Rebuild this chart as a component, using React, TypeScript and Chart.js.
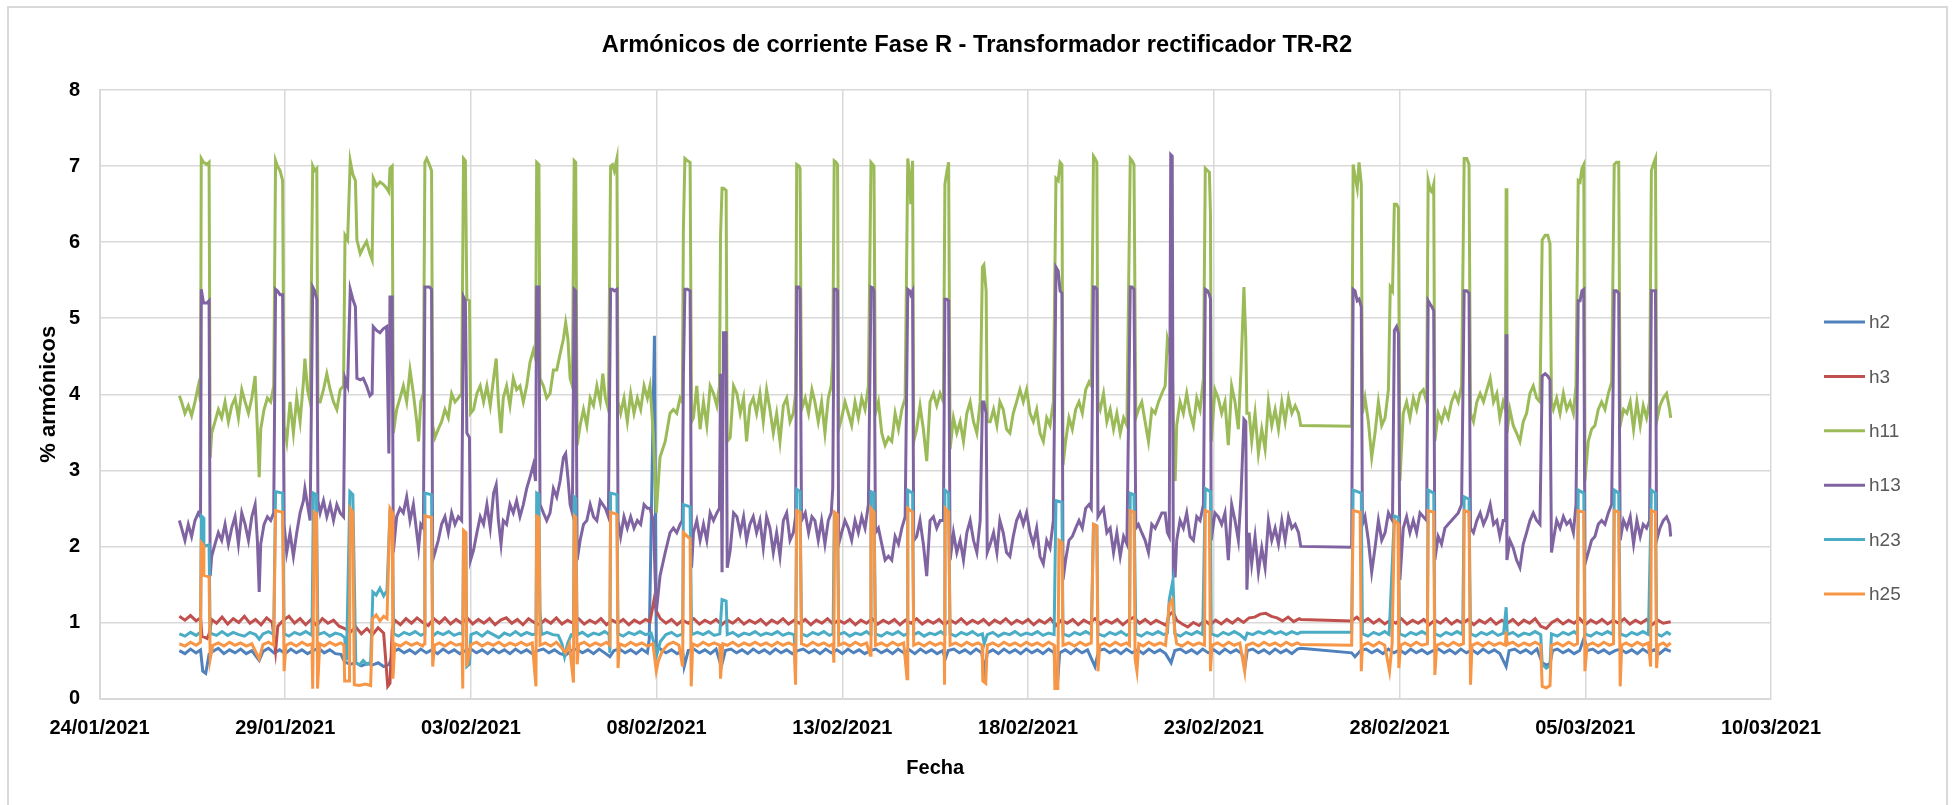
import React, { useEffect, useRef } from "react";
import { Chart, registerables } from "chart.js";

Chart.register(...registerables);

const FONT = '"Liberation Sans", Arial, sans-serif';

const chartTitle = "Armónicos de corriente Fase R - Transformador rectificador TR-R2";
const xAxisTitle = "Fecha";
const yAxisTitle = "% armónicos";

// x axis: days since 24/01/2021 00:00, one tick every 5 days
const xTickLabels = [
  "24/01/2021", "29/01/2021", "03/02/2021", "08/02/2021", "13/02/2021",
  "18/02/2021", "23/02/2021", "28/02/2021", "05/03/2021", "10/03/2021",
];

const seriesNames = ["h2", "h3", "h11", "h13", "h23", "h25"];
const seriesColors = ["#4F81BD", "#C0504D", "#9BBB59", "#8064A2", "#4BACC6", "#F79646"];

// [day, %]
const h11: [number, number][] = [
  [2.15,3.98],[2.21,3.90],[2.30,3.75],[2.39,3.85],[2.48,3.72],[2.57,3.90],[2.66,4.11],[2.72,3.90],
  [2.74,7.10],[2.80,7.05],[2.89,7.02],[2.95,7.05],[2.98,3.17],
  [3.02,3.49],[3.11,3.64],[3.20,3.80],[3.29,3.69],[3.38,3.90],[3.47,3.64],[3.56,3.85],[3.65,3.95],[3.74,3.69],[3.83,4.06],[3.92,3.90],[4.01,3.75],[4.10,3.95],[4.19,4.24],[4.25,3.54],[4.30,2.91],[4.34,3.54],[4.43,3.80],[4.52,3.95],[4.61,3.90],[4.69,4.11],
  [4.74,7.07],[4.79,7.00],[4.86,6.94],[4.93,6.81],[4.97,3.59],
  [5.04,3.38],[5.13,3.90],[5.22,3.49],[5.31,3.95],[5.40,3.64],[5.49,4.16],[5.53,4.47],[5.60,4.06],[5.67,3.90],
  [5.74,7.00],[5.79,6.94],[5.85,6.97],[5.88,3.90],
  [5.94,3.90],[6.03,4.06],[6.12,4.27],[6.21,4.06],[6.30,3.90],[6.39,3.80],[6.48,4.06],[6.57,4.11],
  [6.61,6.09],[6.68,6.03],[6.75,7.07],[6.82,6.89],[6.89,6.81],[6.93,6.03],[7.02,5.85],[7.10,5.93],[7.19,6.01],[7.28,5.85],[7.34,5.77],[7.37,6.84],[7.46,6.74],[7.55,6.79],[7.64,6.76],[7.73,6.71],[7.79,6.66],[7.82,6.97],[7.88,7.00],[7.91,3.49],
  [8.00,3.80],[8.09,3.95],[8.18,4.11],[8.27,3.90],[8.36,4.32],[8.45,4.01],[8.54,3.64],[8.59,3.38],[8.65,3.90],[8.72,4.01],
  [8.76,7.05],[8.81,7.10],[8.88,7.02],[8.94,6.94],[8.97,3.59],
  [9.03,3.43],[9.12,3.54],[9.21,3.64],[9.30,3.80],[9.39,3.69],[9.48,4.01],[9.57,3.90],[9.66,3.95],[9.75,4.01],
  [9.80,7.10],[9.85,7.07],[9.89,5.25],[9.96,5.23],[9.99,3.75],
  [10.07,3.80],[10.16,4.01],[10.25,4.11],[10.34,3.90],[10.43,4.11],[10.52,3.85],[10.61,4.21],[10.68,4.47],[10.74,3.90],[10.81,3.49],[10.87,3.95],[10.96,4.11],[11.05,3.85],[11.14,4.21],[11.23,4.06],[11.32,4.11],[11.41,3.90],[11.50,4.11],[11.59,4.42],[11.68,4.58],[11.74,4.47],
  [11.77,7.05],[11.83,7.02],[11.86,4.21],
  [11.95,4.11],[12.04,3.95],[12.13,4.01],[12.22,4.32],[12.31,4.32],[12.40,4.53],[12.49,4.73],[12.55,4.94],[12.61,4.73],[12.67,4.21],[12.73,4.11],
  [12.78,7.07],[12.82,7.05],[12.86,3.33],
  [12.94,3.59],[13.03,3.80],[13.12,3.59],[13.21,3.95],[13.30,3.85],[13.39,4.11],[13.48,3.90],[13.55,4.27],[13.62,3.95],[13.70,3.80],
  [13.76,7.00],[13.81,7.02],[13.86,6.94],[13.93,7.10],[13.96,3.90],
  [14.03,3.75],[14.12,3.95],[14.21,3.64],[14.30,4.01],[14.39,3.75],[14.48,3.95],[14.57,3.80],[14.66,4.11],[14.75,3.95],[14.82,4.11],[14.91,3.49],[14.99,2.44],[15.09,3.17],[15.23,3.38],[15.36,3.75],[15.45,3.80],
  [15.54,3.75],[15.63,3.95],[15.69,3.90],
  [15.72,6.19],[15.76,7.10],[15.83,7.07],[15.90,7.05],[15.94,3.64],
  [15.99,3.69],[16.08,4.11],[16.17,3.54],[16.26,3.90],[16.35,3.59],[16.44,4.11],[16.53,4.01],[16.62,3.85],[16.69,4.11],
  [16.72,6.09],[16.76,6.71],[16.80,6.71],[16.87,6.68],[16.90,3.38],
  [16.98,3.43],[17.07,4.11],[17.16,4.01],[17.25,3.75],[17.34,3.95],[17.42,3.38],[17.51,3.85],[17.60,3.95],[17.69,3.75],[17.78,4.01],[17.87,3.64],[17.96,4.06],[18.05,3.80],[18.14,3.49],[18.23,3.75],[18.32,3.38],[18.41,3.85],[18.50,3.95],[18.59,3.64],[18.68,3.75],[18.74,4.01],
  [18.77,7.02],[18.83,7.00],[18.86,6.97],[18.90,3.80],
  [19.00,3.95],[19.09,3.75],[19.18,4.06],[19.26,3.90],[19.35,3.64],[19.44,3.90],[19.53,3.49],[19.62,3.95],[19.70,4.11],[19.74,4.47],
  [19.78,7.07],[19.83,7.05],[19.87,7.02],[19.90,3.54],
  [19.98,3.69],[20.07,3.90],[20.16,3.75],[20.25,3.59],[20.34,3.90],[20.43,3.69],[20.52,3.95],[20.61,3.80],[20.70,4.11],
  [20.77,7.05],[20.82,7.02],[20.85,7.00],[20.89,3.75],
  [20.97,3.90],[21.06,3.49],[21.15,3.33],[21.24,3.43],[21.33,3.38],[21.42,3.75],[21.51,3.54],[21.60,3.80],[21.69,3.95],
  [21.76,7.10],[21.81,6.87],[21.84,6.50],[21.89,7.07],[21.92,3.38],
  [22.00,3.54],[22.09,3.85],[22.18,3.54],[22.27,3.12],[22.36,3.90],[22.45,4.01],[22.54,3.85],[22.63,4.01],[22.72,3.90],
  [22.76,6.76],[22.81,6.92],[22.86,7.05],[22.90,3.28],
  [22.99,3.69],[23.08,3.49],[23.17,3.64],[23.26,3.38],[23.35,3.75],[23.44,3.90],[23.53,3.64],[23.62,3.49],[23.71,3.90],
  [23.77,5.67],[23.81,5.70],[23.87,5.36],[23.90,3.64],
  [23.98,3.64],[24.07,3.80],[24.16,3.59],[24.24,3.90],[24.33,3.80],[24.42,3.54],[24.51,3.49],[24.60,3.75],[24.69,3.90],[24.78,4.06],[24.87,3.90],[24.96,4.06],[25.05,3.75],[25.14,3.64],[25.23,3.80],[25.32,3.49],[25.41,3.38],[25.50,3.69],[25.59,3.59],[25.68,3.90],
  [25.75,6.84],[25.81,6.81],[25.86,7.05],[25.91,7.02],[25.94,3.07],
  [26.01,3.38],[26.10,3.69],[26.19,3.54],[26.28,3.80],[26.37,3.90],[26.46,3.75],[26.55,4.06],[26.64,4.16],[26.70,4.11],
  [26.76,7.13],[26.80,7.10],[26.85,7.05],[26.88,3.90],
  [26.94,3.80],[27.03,4.01],[27.12,3.64],[27.21,3.80],[27.30,3.54],[27.39,3.75],[27.48,3.49],[27.57,3.69],[27.66,3.59],
  [27.75,7.10],[27.80,7.07],[27.85,7.02],[27.90,3.69],
  [27.97,3.80],[28.06,3.90],[28.15,3.64],[28.24,3.38],[28.33,3.80],[28.42,3.75],[28.51,3.90],[28.60,4.01],[28.69,4.11],[28.75,4.73],[28.80,4.63],[28.85,4.42],[28.89,4.16],[28.93,3.00],[28.96,2.86],
  [29.00,3.59],[29.09,3.90],[29.18,3.75],[29.27,4.01],[29.36,3.75],[29.45,3.59],[29.54,3.95],[29.63,3.80],[29.72,4.21],
  [29.77,6.97],[29.83,6.94],[29.88,6.92],[29.91,6.35],[29.93,3.38],
  [30.03,4.06],[30.12,3.95],[30.21,3.75],[30.30,3.90],[30.39,3.33],[30.48,4.11],[30.57,3.90],[30.66,3.54],[30.73,4.32],
  [30.81,5.41],[30.86,4.73],[30.89,3.75],
  [30.95,3.75],[31.02,3.38],[31.11,3.75],[31.20,3.22],[31.29,3.54],[31.38,3.28],[31.47,3.90],[31.56,3.59],[31.65,3.80],[31.74,3.54],[31.83,3.90],[31.92,3.64],[32.01,3.95],[32.10,3.75],[32.19,3.85],[32.28,3.75],[32.34,3.59],
  [33.71,3.58],
  [33.75,7.02],[33.80,6.87],[33.86,6.71],[33.91,7.05],[33.97,6.76],[34.00,3.75],
  [34.07,3.95],[34.16,3.64],[34.25,3.17],[34.34,3.49],[34.43,3.90],[34.52,3.59],[34.61,3.69],[34.70,4.06],
  [34.75,5.41],[34.81,5.36],[34.86,6.50],[34.92,6.50],[34.97,6.45],[35.01,2.86],
  [35.10,3.75],[35.19,3.90],[35.28,3.69],[35.37,3.95],[35.46,3.80],[35.55,4.01],[35.64,4.06],[35.73,3.90],
  [35.77,6.81],[35.83,6.68],[35.87,6.66],[35.92,6.76],[35.95,3.38],
  [36.04,3.75],[36.13,3.64],[36.22,3.80],[36.31,3.69],[36.40,3.90],[36.49,4.01],[36.58,3.90],[36.67,4.11],
  [36.74,7.10],[36.81,7.10],[36.87,7.02],[36.91,3.75],
  [36.99,3.64],[37.08,3.90],[37.17,4.01],[37.26,3.90],[37.35,4.06],[37.44,4.21],[37.53,3.90],[37.62,4.01],[37.70,3.69],[37.79,3.90],[37.85,3.80],
  [37.87,6.71],[37.89,3.49],
  [37.97,3.80],[38.06,3.59],[38.15,3.49],[38.24,3.38],[38.33,3.64],[38.42,3.75],[38.51,4.01],[38.60,4.11],[38.69,3.95],[38.78,3.90],
  [38.84,6.03],[38.92,6.09],[38.99,6.09],[39.05,5.98],[39.09,3.90],
  [39.14,3.80],[39.23,3.95],[39.32,3.75],[39.41,4.01],[39.50,3.80],[39.59,3.90],[39.68,3.75],[39.75,4.11],
  [39.81,6.81],[39.86,6.79],[39.91,6.97],[39.96,7.02],[39.99,2.86],
  [40.08,3.38],[40.17,3.54],[40.26,3.59],[40.35,3.80],[40.44,3.90],[40.53,3.80],[40.62,4.01],[40.71,4.16],
  [40.78,7.02],[40.84,7.05],[40.90,7.05],[40.94,3.59],
  [41.03,3.80],[41.12,3.75],[41.21,3.90],[41.30,3.54],[41.39,3.90],[41.48,3.59],[41.56,3.85],[41.65,3.69],[41.73,3.90],
  [41.78,6.94],[41.83,7.02],[41.89,7.10],[41.92,3.64],
  [42.01,3.85],[42.10,3.95],[42.19,4.01],[42.27,3.80],[42.30,3.69],
];

const h13: [number, number][] = [
  [2.15,2.34],[2.21,2.24],[2.30,2.08],[2.39,2.29],[2.48,2.13],[2.57,2.34],[2.66,2.44],[2.72,2.39],
  [2.74,5.38],[2.80,5.20],[2.89,5.20],[2.95,5.23],[2.98,1.61],
  [3.02,1.87],[3.11,2.03],[3.20,2.18],[3.29,2.08],[3.38,2.29],[3.47,2.03],[3.56,2.24],[3.65,2.39],[3.74,2.03],[3.83,2.44],[3.92,2.29],[4.01,2.08],[4.10,2.39],[4.19,2.55],[4.25,2.08],[4.30,1.40],[4.34,2.03],[4.43,2.29],[4.52,2.39],[4.61,2.34],[4.69,2.44],
  [4.74,5.38],[4.79,5.36],[4.86,5.31],[4.93,5.31],[4.97,2.29],
  [5.04,1.92],[5.13,2.18],[5.22,1.87],[5.31,2.18],[5.40,2.44],[5.49,2.60],[5.53,2.76],[5.60,2.55],[5.67,2.34],
  [5.74,5.41],[5.79,5.36],[5.85,5.25],[5.88,2.60],
  [5.94,2.44],[6.03,2.60],[6.12,2.39],[6.21,2.55],[6.30,2.34],[6.39,2.55],[6.48,2.44],[6.57,2.39],
  [6.61,4.21],[6.68,4.11],[6.75,5.38],[6.82,5.25],[6.89,5.15],[6.93,4.21],[7.02,4.19],[7.10,4.21],[7.19,4.11],[7.28,3.98],[7.34,4.01],[7.37,4.89],[7.46,4.84],[7.55,4.81],[7.64,4.86],[7.73,4.89],[7.79,3.22],[7.82,5.28],[7.88,5.28],[7.91,1.92],
  [8.00,2.39],[8.09,2.50],[8.18,2.44],[8.27,2.65],[8.36,2.34],[8.45,2.55],[8.54,2.18],[8.59,1.98],[8.65,2.29],[8.72,2.24],
  [8.76,5.41],[8.81,5.41],[8.88,5.41],[8.94,5.38],[8.97,1.82],
  [9.03,1.92],[9.12,2.08],[9.21,2.29],[9.30,2.39],[9.39,2.18],[9.48,2.44],[9.57,2.29],[9.66,2.39],[9.75,2.34],
  [9.80,5.28],[9.85,5.23],[9.89,3.49],[9.96,3.43],[9.99,1.82],
  [10.07,1.95],[10.16,2.18],[10.25,2.39],[10.34,2.29],[10.43,2.55],[10.52,2.24],[10.61,2.70],[10.68,2.81],[10.74,2.34],[10.81,2.03],[10.87,2.34],[10.96,2.29],[11.05,2.55],[11.14,2.44],[11.23,2.60],[11.32,2.39],[11.41,2.55],[11.50,2.76],[11.59,2.91],[11.68,3.07],[11.74,2.86],
  [11.77,5.41],[11.83,5.41],[11.86,2.55],
  [11.95,2.44],[12.04,2.34],[12.13,2.44],[12.22,2.76],[12.31,2.65],[12.40,2.86],[12.49,3.17],[12.55,3.22],[12.61,2.91],[12.67,2.55],[12.73,2.44],
  [12.78,5.38],[12.82,5.36],[12.86,1.82],
  [12.94,2.08],[13.03,2.29],[13.12,2.34],[13.21,2.55],[13.30,2.39],[13.39,2.34],[13.48,2.60],[13.55,2.55],[13.62,2.50],[13.70,2.39],
  [13.76,5.38],[13.81,5.38],[13.86,5.36],[13.93,5.38],[13.96,2.34],
  [14.03,2.13],[14.12,2.39],[14.21,2.24],[14.30,2.39],[14.39,2.24],[14.48,2.34],[14.57,2.29],[14.66,2.55],[14.75,2.50],[14.82,2.50],[14.91,2.34],[14.99,1.14],[15.09,1.61],[15.23,1.92],[15.36,2.18],[15.45,2.24],
  [15.54,2.18],[15.63,2.29],[15.69,2.34],
  [15.72,4.27],[15.76,5.38],[15.83,5.38],[15.90,5.36],[15.94,1.72],
  [15.99,2.18],[16.08,2.34],[16.17,2.08],[16.26,2.29],[16.35,2.08],[16.44,2.44],[16.53,2.34],[16.62,2.44],[16.69,2.50],
  [16.72,4.27],[16.76,1.66],[16.80,4.81],[16.87,4.81],[16.90,1.72],
  [16.98,1.95],[17.07,2.44],[17.16,2.39],[17.25,2.18],[17.34,2.39],[17.42,2.08],[17.51,2.29],[17.60,2.39],[17.69,2.18],[17.78,2.34],[17.87,1.98],[17.96,2.39],[18.05,2.24],[18.14,1.92],[18.23,2.18],[18.32,1.87],[18.41,2.34],[18.50,2.44],[18.59,2.08],[18.68,2.18],[18.74,2.39],
  [18.77,5.41],[18.83,5.41],[18.86,5.38],[18.90,2.34],
  [19.00,2.44],[19.09,2.18],[19.18,2.39],[19.26,2.34],[19.35,2.08],[19.44,2.34],[19.53,2.03],[19.62,2.34],[19.70,2.44],[19.74,2.76],
  [19.78,5.38],[19.83,5.38],[19.87,5.36],[19.90,2.03],
  [19.98,2.18],[20.07,2.34],[20.16,2.24],[20.25,2.08],[20.34,2.34],[20.43,2.18],[20.52,2.39],[20.61,2.24],[20.70,2.55],
  [20.77,5.41],[20.82,5.40],[20.85,5.36],[20.89,2.18],
  [20.97,2.24],[21.06,2.03],[21.15,1.82],[21.24,1.87],[21.33,1.82],[21.42,2.13],[21.51,2.03],[21.60,2.24],[21.69,2.39],
  [21.76,5.38],[21.81,5.36],[21.84,5.31],[21.89,5.36],[21.92,2.08],
  [22.00,2.13],[22.09,2.34],[22.18,2.03],[22.27,1.61],[22.36,2.34],[22.45,2.39],[22.54,2.24],[22.63,2.34],[22.72,2.34],
  [22.76,5.25],[22.81,5.25],[22.86,5.23],[22.90,1.82],
  [22.99,2.18],[23.08,1.92],[23.17,2.08],[23.26,1.82],[23.35,2.18],[23.44,2.34],[23.53,2.08],[23.62,1.92],[23.71,2.34],
  [23.77,3.90],[23.81,3.90],[23.87,3.75],[23.90,1.92],
  [23.98,2.03],[24.07,2.18],[24.16,1.92],[24.24,2.34],[24.33,2.18],[24.42,1.92],[24.51,1.87],[24.60,2.13],[24.69,2.34],[24.78,2.44],[24.87,2.29],[24.96,2.44],[25.05,2.18],[25.14,2.03],[25.23,2.24],[25.32,1.87],[25.41,1.77],[25.50,2.08],[25.59,1.98],[25.68,2.34],
  [25.75,5.67],[25.81,5.62],[25.86,5.36],[25.91,5.33],[25.94,1.56],
  [26.01,1.82],[26.10,2.08],[26.19,2.13],[26.28,2.24],[26.37,2.34],[26.46,2.24],[26.55,2.50],[26.64,2.55],[26.70,2.50],
  [26.76,5.41],[26.80,5.41],[26.85,5.38],[26.88,2.39],
  [26.94,2.44],[27.03,2.50],[27.12,2.18],[27.21,2.24],[27.30,1.92],[27.39,2.18],[27.48,1.87],[27.57,2.13],[27.66,2.03],
  [27.75,5.41],[27.80,5.41],[27.85,5.38],[27.90,2.24],
  [27.97,2.29],[28.06,2.18],[28.15,2.08],[28.24,1.92],[28.33,2.29],[28.42,2.24],[28.51,2.34],[28.60,2.44],[28.69,2.44],[28.75,2.18],[28.80,2.13],[28.84,7.15],[28.88,7.13],[28.91,1.61],[28.96,1.61],
  [29.00,2.08],[29.09,2.34],[29.18,2.24],[29.27,2.44],[29.36,2.13],[29.45,2.08],[29.54,2.39],[29.63,2.34],[29.72,2.55],
  [29.77,5.38],[29.83,5.36],[29.88,5.31],[29.91,5.25],[29.93,2.08],
  [30.03,2.44],[30.12,2.39],[30.21,2.29],[30.30,2.44],[30.39,1.82],[30.48,2.55],[30.57,2.34],[30.66,2.08],[30.73,2.65],
  [30.81,3.67],[30.86,3.64],[30.89,1.43],
  [30.95,2.18],[31.02,1.77],[31.11,2.13],[31.20,1.66],[31.29,1.98],[31.38,1.72],[31.47,2.34],[31.56,2.08],[31.65,2.24],[31.74,2.03],[31.83,2.34],[31.92,2.08],[32.01,2.39],[32.10,2.24],[32.19,2.29],[32.28,2.18],[32.34,2.00],
  [33.71,1.99],
  [33.75,5.38],[33.80,5.36],[33.86,5.23],[33.91,5.25],[33.97,5.15],[34.00,2.29],
  [34.07,2.39],[34.16,2.08],[34.25,1.66],[34.34,1.98],[34.43,2.34],[34.52,2.08],[34.61,2.18],[34.70,2.44],
  [34.75,2.39],[34.81,2.34],[34.86,4.84],[34.92,4.89],[34.97,4.80],[35.01,1.56],
  [35.10,2.24],[35.19,2.39],[35.28,2.18],[35.37,2.34],[35.46,2.18],[35.55,2.44],[35.64,2.39],[35.73,2.34],
  [35.77,5.23],[35.83,5.18],[35.87,5.15],[35.92,5.10],[35.95,1.82],
  [36.04,2.13],[36.13,2.03],[36.22,2.24],[36.31,2.29],[36.40,2.34],[36.49,2.39],[36.58,2.44],[36.67,2.55],
  [36.74,5.36],[36.81,5.36],[36.87,5.33],[36.91,2.24],
  [36.99,2.18],[37.08,2.34],[37.17,2.44],[37.26,2.29],[37.35,2.39],[37.44,2.55],[37.53,2.29],[37.62,2.34],[37.70,2.13],[37.79,2.34],[37.85,2.34],
  [37.87,4.79],[37.89,1.82],
  [37.97,2.08],[38.06,1.98],[38.15,1.82],[38.24,1.72],[38.33,2.03],[38.42,2.18],[38.51,2.34],[38.60,2.44],[38.69,2.34],[38.78,2.29],
  [38.84,4.24],[38.92,4.27],[38.99,4.24],[39.05,4.19],[39.09,1.92],
  [39.14,2.08],[39.23,2.34],[39.32,2.24],[39.41,2.39],[39.50,2.29],[39.59,2.34],[39.68,2.18],[39.75,2.55],
  [39.81,5.23],[39.86,5.23],[39.91,5.36],[39.96,5.38],[39.99,1.77],
  [40.08,1.92],[40.17,2.08],[40.26,2.13],[40.35,2.29],[40.44,2.34],[40.53,2.29],[40.62,2.44],[40.71,2.55],
  [40.78,5.36],[40.84,5.36],[40.90,5.33],[40.94,2.08],
  [41.03,2.34],[41.12,2.24],[41.21,2.39],[41.30,2.03],[41.39,2.34],[41.48,2.13],[41.56,2.29],[41.65,2.24],[41.73,2.34],
  [41.78,5.36],[41.83,5.36],[41.89,5.36],[41.92,2.08],
  [42.01,2.24],[42.10,2.34],[42.19,2.39],[42.27,2.29],[42.30,2.13],
];

const h3: [number, number][] = [
  [2.15,1.08],[2.30,1.03],[2.45,1.09],[2.60,1.02],[2.72,1.06],[2.76,0.82],[2.90,0.79],[2.96,0.86],[3.02,1.04],[3.15,0.99],[3.30,1.07],[3.45,0.98],[3.60,1.05],[3.75,1.00],[3.90,1.08],[4.05,0.99],[4.20,1.04],[4.35,0.97],[4.50,1.06],[4.65,1.00],[4.74,0.62],[4.80,0.95],[4.95,1.03],
  [5.10,1.08],[5.25,0.99],[5.40,1.05],[5.55,0.97],[5.70,1.04],[5.85,0.96],[6.00,1.05],[6.15,0.99],[6.30,1.03],[6.45,0.95],[6.60,0.92],[6.75,0.87],[6.90,0.94],[7.05,0.85],[7.20,0.92],[7.35,0.84],[7.50,0.93],[7.65,0.86],[7.76,0.16],[7.82,0.20],[7.88,0.90],[7.95,1.03],
  [8.10,0.97],[8.25,1.05],[8.40,0.99],[8.55,1.06],[8.70,1.00],[8.85,0.96],[9.00,1.05],[9.15,0.99],[9.30,1.06],[9.45,0.98],[9.60,1.04],[9.75,0.99],[9.90,1.06],[10.05,0.98],[10.20,1.04],[10.35,0.99],[10.50,1.05],[10.65,0.97],[10.80,1.03],[10.95,1.06],
  [11.10,0.99],[11.25,1.04],[11.40,0.97],[11.55,1.05],[11.70,1.00],[11.85,0.97],[12.00,1.04],[12.15,0.99],[12.30,1.06],[12.45,0.98],[12.60,1.03],[12.75,0.99],[12.90,1.05],[13.05,0.98],[13.20,1.03],[13.35,0.99],[13.50,1.05],[13.65,0.97],[13.80,1.03],[13.95,0.99],
  [14.10,1.04],[14.25,0.97],[14.40,1.03],[14.55,0.99],[14.70,1.04],[14.82,1.01],[14.93,1.30],[15.00,1.14],[15.10,1.05],[15.25,0.99],[15.40,1.04],[15.55,0.97],[15.70,1.03],[15.85,0.99],[16.00,1.05],[16.15,0.98],[16.30,1.03],[16.45,0.99],[16.60,1.04],[16.75,0.97],
  [16.90,1.03],[17.05,0.99],[17.20,1.05],[17.35,0.98],[17.50,1.03],[17.65,0.99],[17.80,1.04],[17.95,0.97],[18.10,1.03],[18.25,0.99],[18.40,1.05],[18.55,0.98],[18.70,1.03],[18.85,0.99],[19.00,1.04],[19.15,0.97],[19.30,1.03],[19.45,0.99],[19.60,1.05],[19.75,0.98],
  [19.90,1.03],[20.05,0.99],[20.20,1.04],[20.35,0.97],[20.50,1.03],[20.65,0.99],[20.80,1.05],[20.95,0.98],[21.10,1.03],[21.25,0.99],[21.40,1.04],[21.55,0.97],[21.70,1.03],[21.85,0.99],[22.00,1.05],[22.15,0.98],[22.30,1.03],[22.45,0.99],[22.60,1.04],[22.75,0.97],
  [22.90,1.03],[23.05,0.99],[23.20,1.05],[23.35,0.98],[23.50,1.03],[23.65,0.99],[23.80,1.04],[23.95,0.97],[24.10,1.03],[24.25,0.99],[24.40,1.05],[24.55,0.98],[24.70,1.03],[24.85,0.99],[25.00,1.04],[25.15,0.97],[25.30,1.03],[25.45,0.99],[25.60,1.05],[25.75,0.96],
  [25.90,1.03],[26.05,0.99],[26.20,1.04],[26.35,0.97],[26.50,1.03],[26.65,0.99],[26.80,1.05],[26.95,0.98],[27.10,1.03],[27.25,0.99],[27.40,1.04],[27.55,0.97],[27.70,1.03],[27.85,1.07],[28.00,0.99],[28.15,1.04],[28.30,0.98],[28.45,1.03],[28.60,0.99],[28.72,0.96],
  [28.80,1.10],[28.90,1.14],[29.00,1.03],[29.15,0.98],[29.30,0.94],[29.45,1.00],[29.60,0.96],[29.75,1.03],[29.90,0.97],[30.05,1.03],[30.20,0.98],[30.35,1.04],[30.50,0.99],[30.65,1.05],[30.80,1.00],[30.95,1.06],[31.10,1.07],[31.25,1.11],[31.40,1.12],[31.55,1.08],
  [31.70,1.06],[31.85,1.02],[32.00,1.07],[32.15,1.01],[32.30,1.05],[32.34,1.04],[33.71,1.02],[33.85,1.07],[34.00,1.00],[34.15,1.05],[34.30,0.99],[34.45,1.04],[34.60,0.98],[34.75,1.03],[34.90,0.99],[35.05,1.05],[35.20,0.98],[35.35,1.03],[35.50,0.99],[35.65,1.04],
  [35.80,0.97],[35.95,1.03],[36.10,0.99],[36.25,1.05],[36.40,0.98],[36.55,1.03],[36.70,0.99],[36.85,1.04],[37.00,0.97],[37.15,1.03],[37.30,0.99],[37.45,1.05],[37.60,0.98],[37.75,1.03],[37.90,0.99],[38.05,1.04],[38.20,0.97],[38.35,1.03],[38.50,0.99],[38.65,1.05],
  [38.80,0.95],[38.95,0.92],[39.10,1.00],[39.25,1.04],[39.40,0.98],[39.55,1.03],[39.70,0.99],[39.85,1.05],[40.00,0.97],[40.15,1.03],[40.30,0.99],[40.45,1.04],[40.60,0.98],[40.75,1.03],[40.90,0.99],[41.05,1.05],[41.20,0.98],[41.35,1.03],[41.50,0.99],[41.65,1.04],
  [41.80,0.97],[41.95,1.03],[42.10,0.99],[42.30,1.01],
];

const h23: [number, number][] = [
  [2.15,0.85],[2.30,0.82],[2.45,0.87],[2.60,0.83],[2.72,0.87],[2.74,2.40],[2.79,2.38],[2.81,2.00],[2.95,2.02],[2.98,0.86],[3.15,0.83],[3.30,0.88],[3.45,0.83],[3.60,0.87],[3.75,0.84],[3.90,0.82],[4.05,0.87],[4.20,0.84],[4.30,0.78],[4.40,0.85],[4.55,0.88],[4.69,0.84],
  [4.74,2.72],[4.93,2.70],[4.97,0.85],[5.10,0.82],[5.25,0.87],[5.40,0.84],[5.55,0.88],[5.72,0.83],[5.76,2.70],[5.84,2.68],[5.88,0.84],[6.05,0.87],[6.20,0.82],[6.35,0.86],[6.50,0.84],[6.60,0.80],[6.65,0.50],[6.74,2.72],[6.82,2.68],[6.90,0.47],[7.00,0.44],[7.10,0.50],[7.20,0.45],[7.30,0.48],
  [7.36,1.40],[7.45,1.36],[7.55,1.45],[7.65,1.35],[7.74,1.42],[7.82,2.45],[7.88,2.42],[7.92,0.85],[8.05,0.82],[8.20,0.87],[8.35,0.84],[8.50,0.88],[8.65,0.83],[8.74,0.85],[8.76,2.70],[8.94,2.68],[8.97,0.82],[9.10,0.87],[9.25,0.84],[9.40,0.88],[9.55,0.83],[9.70,0.86],[9.78,0.84],
  [9.80,2.20],[9.86,2.18],[9.89,0.42],[9.96,0.45],[10.00,0.84],[10.15,0.87],[10.30,0.82],[10.45,0.88],[10.60,0.84],[10.75,0.80],[10.90,0.86],[11.05,0.83],[11.20,0.88],[11.35,0.83],[11.50,0.87],[11.65,0.84],[11.75,0.85],[11.77,2.70],[11.83,2.68],[11.86,1.15],[11.90,0.84],
  [12.05,0.87],[12.20,0.84],[12.35,0.83],[12.45,0.72],[12.52,0.55],[12.60,0.72],[12.70,0.84],[12.76,0.85],[12.78,2.65],[12.82,2.63],[12.86,0.84],[13.00,0.87],[13.15,0.82],[13.30,0.86],[13.45,0.84],[13.60,0.88],[13.72,0.84],[13.74,0.60],[13.76,2.70],[13.93,2.68],[13.96,0.85],
  [14.10,0.82],[14.25,0.87],[14.40,0.84],[14.55,0.88],[14.70,0.84],[14.85,0.86],[14.95,0.70],[15.00,0.57],[15.10,0.75],[15.25,0.84],[15.40,0.87],[15.55,0.82],[15.70,0.85],[15.72,2.55],[15.90,2.52],[15.94,0.84],[16.10,0.87],[16.25,0.84],[16.40,0.88],[16.55,0.83],[16.70,0.85],
  [16.76,1.30],[16.87,1.28],[16.90,0.84],[17.05,0.87],[17.20,0.82],[17.35,0.86],[17.50,0.84],[17.65,0.88],[17.80,0.83],[17.95,0.86],[18.10,0.84],[18.25,0.88],[18.40,0.83],[18.55,0.86],[18.70,0.84],[18.74,0.44],[18.77,2.75],[18.86,2.72],[18.90,0.85],
  [19.05,0.82],[19.20,0.87],[19.35,0.84],[19.50,0.88],[19.65,0.83],[19.75,0.85],[19.78,2.40],[19.87,2.38],[19.90,0.84],[20.05,0.87],[20.20,0.82],[20.35,0.86],[20.50,0.84],[20.65,0.88],[20.75,0.84],[20.77,2.72],[20.85,2.70],[20.89,0.85],
  [21.05,0.82],[21.20,0.87],[21.35,0.84],[21.50,0.88],[21.65,0.83],[21.75,0.85],[21.76,2.74],[21.89,2.70],[21.92,0.84],[22.05,0.87],[22.20,0.82],[22.35,0.86],[22.50,0.84],[22.65,0.88],[22.74,0.84],[22.76,2.74],[22.86,2.70],[22.90,0.85],
  [23.05,0.82],[23.20,0.87],[23.35,0.84],[23.50,0.88],[23.65,0.83],[23.77,0.85],[23.82,0.72],[23.90,0.84],[24.05,0.87],[24.20,0.82],[24.35,0.86],[24.50,0.84],[24.65,0.88],[24.80,0.83],[24.95,0.86],[25.10,0.84],[25.25,0.88],[25.40,0.83],[25.55,0.86],[25.70,0.84],
  [25.75,2.60],[25.91,2.58],[25.94,0.85],[26.10,0.82],[26.25,0.87],[26.40,0.84],[26.55,0.88],[26.70,0.84],[26.76,2.29],[26.85,2.27],[26.88,0.85],[27.05,0.82],[27.20,0.87],[27.35,0.84],[27.50,0.88],[27.65,0.83],[27.73,0.85],[27.75,2.70],[27.85,2.68],[27.90,0.85],
  [28.05,0.82],[28.20,0.87],[28.35,0.84],[28.50,0.88],[28.65,0.84],[28.75,0.86],[28.80,1.30],[28.90,1.56],[28.95,0.85],[29.10,0.82],[29.25,0.87],[29.40,0.84],[29.55,0.88],[29.70,0.84],[29.77,2.76],[29.91,2.72],[29.93,0.85],
  [30.10,0.82],[30.25,0.87],[30.40,0.84],[30.55,0.88],[30.70,0.84],[30.84,0.78],[30.90,0.86],[31.05,0.84],[31.20,0.88],[31.35,0.85],[31.50,0.89],[31.65,0.85],[31.80,0.88],[31.95,0.84],[32.10,0.88],[32.25,0.85],[32.34,0.87],[33.71,0.87],
  [33.75,2.74],[33.97,2.70],[34.00,0.85],[34.15,0.82],[34.30,0.87],[34.45,0.84],[34.60,0.88],[34.72,0.84],[34.86,2.40],[34.96,2.38],[35.00,0.85],[35.15,0.82],[35.30,0.87],[35.45,0.84],[35.60,0.88],[35.75,0.84],
  [35.77,2.74],[35.92,2.70],[35.95,0.85],[36.10,0.82],[36.25,0.87],[36.40,0.84],[36.55,0.88],[36.70,0.84],[36.74,2.65],[36.87,2.62],[36.91,0.85],[37.05,0.82],[37.20,0.87],[37.35,0.84],[37.50,0.88],[37.65,0.83],[37.80,0.86],[37.87,1.20],[37.90,0.84],
  [38.05,0.87],[38.20,0.82],[38.35,0.86],[38.50,0.84],[38.65,0.88],[38.80,0.84],[38.84,0.45],[38.95,0.40],[39.05,0.43],[39.09,0.85],[39.25,0.82],[39.40,0.87],[39.55,0.84],[39.70,0.88],[39.79,0.84],[39.81,2.74],[39.96,2.70],[39.99,0.85],
  [40.15,0.82],[40.30,0.87],[40.45,0.84],[40.60,0.88],[40.75,0.84],[40.78,2.74],[40.90,2.70],[40.94,0.85],[41.10,0.82],[41.25,0.87],[41.40,0.84],[41.55,0.88],[41.70,0.84],[41.78,2.74],[41.89,2.70],[41.92,0.85],[42.05,0.82],[42.20,0.87],[42.30,0.84],
];

const h25: [number, number][] = [
  [2.15,0.72],[2.30,0.69],[2.45,0.74],[2.60,0.70],[2.72,0.74],[2.74,2.05],[2.79,2.02],[2.81,1.62],[2.95,1.60],[2.98,0.52],[3.05,0.70],[3.20,0.73],[3.35,0.69],[3.50,0.74],[3.65,0.70],[3.80,0.73],[3.95,0.69],[4.10,0.72],[4.30,0.52],[4.40,0.71],[4.55,0.74],[4.69,0.70],
  [4.74,2.47],[4.93,2.45],[4.97,0.36],[5.02,0.70],[5.15,0.73],[5.30,0.69],[5.45,0.74],[5.60,0.70],[5.72,0.72],[5.74,0.13],[5.78,2.45],[5.84,2.43],[5.87,0.13],[5.93,0.72],[6.05,0.69],[6.20,0.74],[6.35,0.70],[6.50,0.73],[6.58,0.70],
  [6.60,0.23],[6.73,0.23],[6.75,2.50],[6.82,2.45],[6.86,0.18],[7.00,0.17],[7.15,0.19],[7.30,0.17],[7.35,1.05],[7.45,1.10],[7.55,1.02],[7.65,1.08],[7.74,1.05],[7.82,2.50],[7.88,2.45],[7.90,0.26],[7.95,0.72],
  [8.10,0.69],[8.25,0.74],[8.40,0.70],[8.55,0.73],[8.70,0.69],[8.74,0.72],[8.76,2.40],[8.94,2.38],[8.97,0.42],[9.02,0.70],[9.15,0.73],[9.30,0.69],[9.45,0.74],[9.60,0.70],[9.76,0.72],[9.78,0.13],[9.80,2.21],[9.86,2.18],[9.89,0.42],[9.96,0.60],
  [10.00,0.71],[10.15,0.74],[10.30,0.69],[10.45,0.73],[10.60,0.70],[10.75,0.74],[10.90,0.69],[11.05,0.73],[11.20,0.70],[11.35,0.74],[11.50,0.70],[11.65,0.73],[11.75,0.16],[11.77,2.40],[11.83,2.38],[11.86,0.70],
  [12.00,0.73],[12.15,0.69],[12.30,0.74],[12.45,0.66],[12.55,0.60],[12.65,0.72],[12.76,0.21],[12.78,2.40],[12.82,2.38],[12.86,0.45],[12.90,0.71],[13.05,0.74],[13.20,0.69],[13.35,0.73],[13.50,0.70],[13.65,0.74],[13.74,0.70],[13.76,2.45],[13.93,2.42],[13.96,0.40],
  [14.00,0.72],[14.15,0.69],[14.30,0.74],[14.45,0.70],[14.60,0.73],[14.75,0.69],[14.90,0.72],[14.99,0.36],[15.05,0.50],[15.15,0.62],[15.30,0.71],[15.45,0.74],[15.60,0.70],[15.70,0.42],[15.72,2.18],[15.90,2.10],[15.93,0.16],[15.97,0.72],
  [16.10,0.69],[16.25,0.74],[16.40,0.70],[16.55,0.73],[16.70,0.70],[16.72,0.26],[16.78,0.72],[16.90,0.70],[17.05,0.74],[17.20,0.69],[17.35,0.73],[17.50,0.70],[17.65,0.74],[17.80,0.70],[17.95,0.73],[18.10,0.69],[18.25,0.74],[18.40,0.70],[18.55,0.73],[18.70,0.70],
  [18.74,0.18],[18.77,2.47],[18.86,2.45],[18.90,0.72],[19.05,0.69],[19.20,0.74],[19.35,0.70],[19.50,0.73],[19.65,0.69],[19.75,0.72],[19.77,0.47],[19.79,2.45],[19.87,2.42],[19.90,0.70],
  [20.05,0.73],[20.20,0.69],[20.35,0.74],[20.50,0.70],[20.65,0.73],[20.75,0.57],[20.77,2.50],[20.85,2.45],[20.89,0.70],[21.05,0.73],[21.20,0.69],[21.35,0.74],[21.50,0.70],[21.65,0.73],[21.74,0.26],[21.76,2.50],[21.89,2.45],[21.92,0.70],
  [22.05,0.73],[22.20,0.69],[22.35,0.74],[22.50,0.70],[22.65,0.73],[22.74,0.70],[22.75,0.18],[22.77,2.50],[22.86,2.45],[22.90,0.70],[23.05,0.73],[23.20,0.69],[23.35,0.74],[23.50,0.70],[23.65,0.73],[23.76,0.70],[23.78,0.23],[23.86,0.20],[23.90,0.70],
  [24.05,0.73],[24.20,0.69],[24.35,0.74],[24.50,0.70],[24.65,0.73],[24.80,0.69],[24.95,0.74],[25.10,0.70],[25.25,0.73],[25.40,0.69],[25.55,0.74],[25.70,0.70],[25.72,0.13],[25.80,0.13],[25.83,2.08],[25.91,2.05],[25.94,0.70],
  [26.10,0.73],[26.25,0.69],[26.40,0.74],[26.55,0.70],[26.70,0.73],[26.76,2.29],[26.85,2.27],[26.88,0.36],[26.93,0.70],[27.05,0.73],[27.20,0.69],[27.35,0.74],[27.50,0.70],[27.65,0.73],[27.73,0.70],[27.75,2.47],[27.85,2.45],[27.88,0.52],[27.93,0.36],[27.98,0.72],
  [28.10,0.69],[28.25,0.74],[28.40,0.70],[28.55,0.73],[28.70,0.70],[28.80,1.24],[28.88,1.30],[28.95,0.88],[29.00,0.72],[29.15,0.69],[29.30,0.74],[29.45,0.70],[29.60,0.73],[29.75,0.70],[29.77,2.47],[29.88,2.45],[29.91,0.36],[29.95,0.70],
  [30.10,0.73],[30.25,0.69],[30.40,0.74],[30.55,0.70],[30.70,0.73],[30.83,0.36],[30.88,0.70],[31.05,0.73],[31.20,0.69],[31.35,0.74],[31.50,0.70],[31.65,0.73],[31.80,0.69],[31.95,0.74],[32.10,0.70],[32.25,0.73],[32.34,0.71],[33.71,0.70],
  [33.75,2.47],[33.94,2.45],[33.97,0.36],[34.00,0.70],[34.15,0.73],[34.30,0.69],[34.45,0.74],[34.60,0.70],[34.73,0.36],[34.80,0.72],[34.86,2.34],[34.96,2.30],[34.98,0.40],[35.03,0.70],[35.15,0.73],[35.30,0.69],[35.45,0.74],[35.60,0.70],[35.75,0.72],
  [35.77,2.47],[35.92,2.45],[35.95,0.31],[36.00,0.70],[36.15,0.73],[36.30,0.69],[36.45,0.74],[36.60,0.70],[36.72,0.72],[36.74,2.47],[36.87,2.45],[36.91,0.18],[36.95,0.70],[37.10,0.73],[37.25,0.69],[37.40,0.74],[37.55,0.70],[37.70,0.73],[37.85,0.70],[37.87,0.88],[37.90,0.71],
  [38.05,0.74],[38.20,0.69],[38.35,0.73],[38.50,0.70],[38.65,0.74],[38.80,0.70],[38.84,0.16],[38.95,0.14],[39.05,0.17],[39.09,0.70],[39.25,0.73],[39.40,0.69],[39.55,0.74],[39.70,0.70],[39.79,0.72],[39.81,2.47],[39.96,2.45],[39.99,0.36],
  [40.05,0.70],[40.20,0.73],[40.35,0.69],[40.50,0.74],[40.65,0.70],[40.76,0.72],[40.78,2.47],[40.90,2.45],[40.94,0.16],[40.98,0.70],[41.10,0.73],[41.25,0.69],[41.40,0.74],[41.55,0.70],[41.70,0.73],[41.76,0.42],[41.78,2.47],[41.89,2.45],[41.92,0.40],[41.96,0.70],
  [42.10,0.73],[42.20,0.69],[42.30,0.73],
];

const h2: [number, number][] = [
  [2.15,0.63],[2.30,0.59],[2.45,0.65],[2.60,0.60],[2.72,0.64],[2.78,0.36],[2.86,0.33],[2.95,0.58],[3.05,0.62],[3.20,0.66],[3.35,0.59],[3.50,0.64],[3.65,0.60],[3.80,0.65],[3.95,0.59],[4.10,0.63],[4.30,0.50],[4.40,0.62],[4.55,0.66],[4.70,0.60],[4.85,0.64],[5.00,0.59],
  [5.15,0.65],[5.30,0.60],[5.45,0.64],[5.60,0.59],[5.75,0.63],[5.90,0.66],[6.05,0.60],[6.20,0.64],[6.35,0.59],[6.50,0.58],[6.60,0.48],[6.75,0.45],[6.90,0.47],[7.05,0.43],[7.20,0.46],[7.35,0.44],[7.50,0.47],[7.65,0.42],[7.80,0.45],[7.92,0.62],
  [8.05,0.65],[8.20,0.60],[8.35,0.64],[8.50,0.59],[8.65,0.65],[8.80,0.60],[8.95,0.64],[9.10,0.59],[9.25,0.65],[9.40,0.60],[9.55,0.64],[9.70,0.59],[9.85,0.63],[10.00,0.65],[10.15,0.60],[10.30,0.64],[10.45,0.59],[10.60,0.65],[10.75,0.60],[10.90,0.64],
  [11.05,0.59],[11.20,0.65],[11.35,0.60],[11.50,0.64],[11.65,0.59],[11.80,0.63],[11.95,0.65],[12.10,0.60],[12.25,0.64],[12.40,0.59],[12.55,0.57],[12.70,0.63],[12.85,0.65],[13.00,0.60],[13.15,0.64],[13.30,0.59],[13.45,0.65],[13.60,0.60],[13.74,0.55],[13.85,0.63],
  [14.00,0.65],[14.15,0.60],[14.30,0.64],[14.45,0.59],[14.60,0.65],[14.75,0.60],[14.80,0.78],[14.94,4.77],[14.99,0.70],[15.10,0.65],[15.25,0.60],[15.40,0.64],[15.55,0.59],[15.70,0.63],[15.74,0.42],[15.85,0.63],[16.00,0.65],[16.15,0.60],[16.30,0.64],[16.45,0.59],
  [16.60,0.65],[16.74,0.42],[16.85,0.63],[17.00,0.65],[17.15,0.60],[17.30,0.64],[17.45,0.59],[17.60,0.65],[17.75,0.60],[17.90,0.64],[18.05,0.59],[18.20,0.65],[18.35,0.60],[18.50,0.64],[18.65,0.59],[18.80,0.63],[18.95,0.65],[19.10,0.60],[19.25,0.64],[19.40,0.59],
  [19.55,0.65],[19.70,0.60],[19.85,0.64],[20.00,0.59],[20.15,0.65],[20.30,0.60],[20.45,0.64],[20.60,0.59],[20.75,0.63],[20.90,0.65],[21.05,0.60],[21.20,0.64],[21.35,0.59],[21.50,0.65],[21.65,0.60],[21.80,0.64],[21.95,0.59],[22.10,0.65],[22.25,0.60],[22.40,0.64],
  [22.55,0.59],[22.70,0.63],[22.77,0.52],[22.85,0.63],[23.00,0.65],[23.15,0.60],[23.30,0.64],[23.45,0.59],[23.60,0.65],[23.75,0.60],[23.83,0.36],[23.90,0.60],[24.05,0.64],[24.20,0.59],[24.35,0.65],[24.50,0.60],[24.65,0.64],[24.80,0.59],[24.95,0.65],[25.10,0.60],
  [25.25,0.64],[25.40,0.59],[25.55,0.65],[25.70,0.60],[25.78,0.12],[25.85,0.60],[26.00,0.64],[26.15,0.59],[26.30,0.65],[26.45,0.60],[26.60,0.64],[26.80,0.42],[26.90,0.63],[27.05,0.65],[27.20,0.60],[27.35,0.64],[27.50,0.59],[27.65,0.65],[27.80,0.60],[27.95,0.64],
  [28.10,0.59],[28.25,0.65],[28.40,0.60],[28.55,0.64],[28.70,0.59],[28.85,0.47],[28.95,0.63],[29.10,0.65],[29.25,0.60],[29.40,0.64],[29.55,0.59],[29.70,0.65],[29.85,0.60],[30.00,0.64],[30.15,0.59],[30.30,0.65],[30.45,0.60],[30.60,0.64],[30.75,0.59],[30.84,0.42],
  [30.90,0.63],[31.05,0.65],[31.20,0.60],[31.35,0.64],[31.50,0.59],[31.65,0.65],[31.80,0.60],[31.95,0.64],[32.10,0.59],[32.25,0.65],[32.34,0.66],[33.71,0.60],[33.80,0.55],[33.95,0.63],[34.10,0.65],[34.25,0.60],[34.40,0.64],[34.55,0.59],[34.70,0.65],[34.85,0.60],
  [35.00,0.64],[35.15,0.59],[35.30,0.65],[35.45,0.60],[35.60,0.64],[35.75,0.59],[35.90,0.63],[36.05,0.65],[36.20,0.60],[36.35,0.64],[36.50,0.59],[36.65,0.65],[36.80,0.60],[36.95,0.64],[37.10,0.59],[37.25,0.65],[37.40,0.60],[37.55,0.64],[37.70,0.59],[37.87,0.42],
  [37.95,0.63],[38.10,0.65],[38.25,0.60],[38.40,0.64],[38.55,0.59],[38.70,0.65],[38.84,0.47],[38.95,0.44],[39.05,0.46],[39.12,0.63],[39.25,0.65],[39.40,0.60],[39.55,0.64],[39.70,0.59],[39.85,0.63],[39.97,0.80],[40.05,0.63],[40.20,0.65],[40.35,0.60],[40.50,0.64],
  [40.65,0.59],[40.80,0.63],[40.95,0.65],[41.10,0.60],[41.25,0.64],[41.40,0.59],[41.55,0.65],[41.70,0.60],[41.85,0.64],[42.00,0.59],[42.15,0.65],[42.30,0.62],
];

const seriesData = [h2, h3, h11, h13, h23, h25];

// legend drawn to the right of the plot, like the spreadsheet original
const sideLegend = {
  id: "sideLegend",
  afterDraw(chart: any) {
    const { ctx, chartArea } = chart;
    ctx.save();
    chart.data.datasets.forEach((ds: any, i: number) => {
      const y = 322 + i * 54.4;
      const x0 = chartArea.right + 53;
      ctx.strokeStyle = ds.borderColor;
      ctx.lineWidth = 3;
      ctx.lineCap = "butt";
      ctx.beginPath();
      ctx.moveTo(x0, y);
      ctx.lineTo(x0 + 41, y);
      ctx.stroke();
      ctx.fillStyle = "#595959";
      ctx.font = `19px ${FONT}`;
      ctx.textBaseline = "middle";
      ctx.textAlign = "left";
      ctx.fillText(ds.label, x0 + 45, y + 1);
    });
    ctx.restore();
  },
};

export default function App() {
  const canvasRef = useRef<HTMLCanvasElement | null>(null);

  useEffect(() => {
    const canvas = canvasRef.current;
    if (!canvas) return;
    const datasets = seriesNames.map((name, i) => ({
      label: name,
      data: seriesData[i].map(([x, y]) => ({ x, y })),
      borderColor: seriesColors[i],
      backgroundColor: seriesColors[i],
      borderWidth: 3,
      pointRadius: 0,
      tension: 0,
      fill: false,
      order: seriesNames.length - i,
    }));
    const tickFont = { family: FONT, size: 20, weight: "bold" as const };
    const chart = new Chart(canvas, {
      type: "line",
      data: { datasets },
      plugins: [sideLegend],
      options: {
        responsive: false,
        animation: false,
        events: [],
        layout: { padding: { left: 0, right: 0, top: 0, bottom: 25 } },
        plugins: {
          legend: { display: false },
          tooltip: { enabled: false },
          title: {
            display: true,
            text: chartTitle,
            color: "#000",
            font: { family: FONT, size: 23.7, weight: "bold" },
            padding: { top: 31, bottom: 30.6 },
          },
        },
        scales: {
          x: {
            type: "linear",
            min: 0,
            max: 45,
            afterFit: (s: any) => { s.height = 81.5; },
            ticks: {
              stepSize: 5,
              padding: 17.5,
              maxRotation: 0,
              autoSkip: false,
              color: "#000",
              font: tickFont,
              callback: (v: any) => xTickLabels[Math.round(Number(v) / 5)] ?? "",
            },
            grid: { color: "#D9D9D9", lineWidth: 1.5, drawTicks: false },
            border: { color: "#D9D9D9", width: 2 },
            title: {
              display: true,
              text: xAxisTitle,
              color: "#000",
              font: { family: FONT, size: 20, weight: "bold" },
              padding: 0,
            },
          },
          y: {
            type: "linear",
            min: 0,
            max: 8,
            afterFit: (s: any) => { s.width = 99.5; },
            ticks: { stepSize: 1, padding: 19.5, color: "#000", font: tickFont },
            grid: { color: "#D9D9D9", lineWidth: 1.5, drawTicks: false },
            border: { color: "#D9D9D9", width: 2 },
            title: {
              display: true,
              text: yAxisTitle,
              color: "#000",
              font: { family: FONT, size: 22, weight: "bold" },
              padding: { top: 35.8, bottom: 0 },
            },
          },
          yRight: {
            type: "linear",
            position: "right",
            min: 0,
            max: 8,
            afterFit: (s: any) => { s.width = 183; },
            grid: { display: false, drawTicks: false },
            border: { display: false },
            ticks: { display: false },
          },
        },
      },
    } as any);
    return () => chart.destroy();
  }, []);

  return (
    <div
      style={{
        position: "fixed",
        left: 0,
        top: 0,
        width: 1954,
        height: 805,
        overflow: "hidden",
        background: "#fff",
      }}
    >
      <div
        style={{
          position: "absolute",
          left: 7,
          top: 6,
          width: 1941,
          height: 830,
          border: "2px solid #D9D9D9",
          boxSizing: "border-box",
        }}
      />
      <canvas
        ref={canvasRef}
        width={1954}
        height={805}
        style={{ position: "absolute", left: 0, top: 0, width: 1954, height: 805 }}
      />
    </div>
  );
}
